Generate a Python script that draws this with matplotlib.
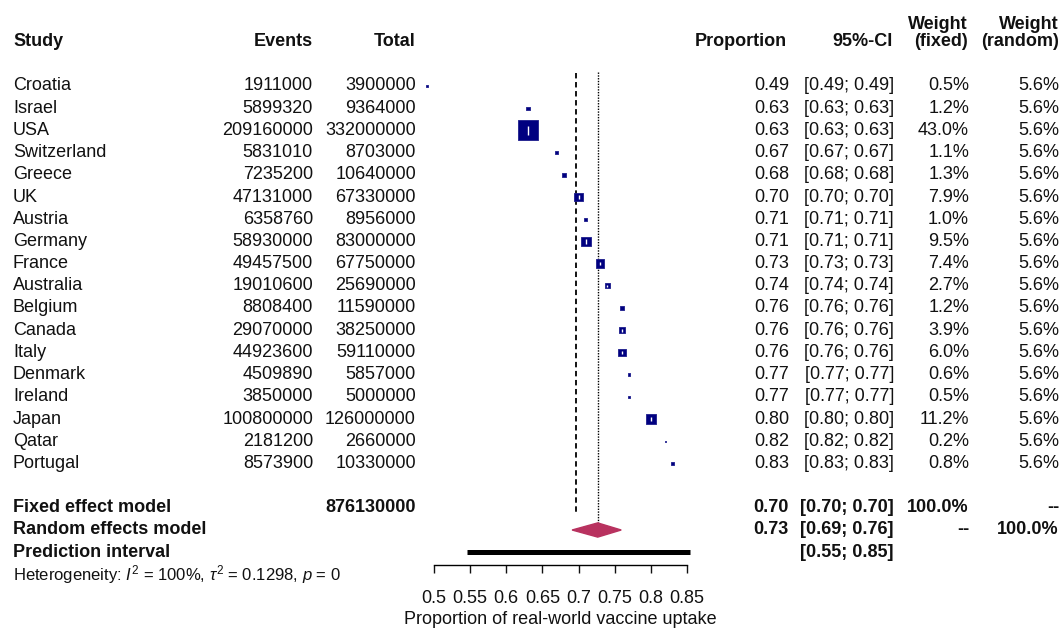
import numpy as np
import matplotlib
matplotlib.use("Agg")
from matplotlib import pyplot as plt
from matplotlib import transforms

plt.rcParams["font.family"] = ["Liberation Sans", "DejaVu Sans"]
plt.rcParams["mathtext.fontset"] = "custom"
plt.rcParams["mathtext.rm"] = "Liberation Sans"
plt.rcParams["mathtext.it"] = "Liberation Sans:italic"

# ---------------- data ----------------
studies = ["Croatia", "Israel", "USA", "Switzerland", "Greece", "UK", "Austria",
           "Germany", "France", "Australia", "Belgium", "Canada", "Italy",
           "Denmark", "Ireland", "Japan", "Qatar", "Portugal"]
events = [1911000, 5899320, 209160000, 5831010, 7235200, 47131000, 6358760,
          58930000, 49457500, 19010600, 8808400, 29070000, 44923600, 4509890,
          3850000, 100800000, 2181200, 8573900]
totals = [3900000, 9364000, 332000000, 8703000, 10640000, 67330000, 8956000,
          83000000, 67750000, 25690000, 11590000, 38250000, 59110000, 5857000,
          5000000, 126000000, 2660000, 10330000]
w_fixed = [0.5, 1.2, 43.0, 1.1, 1.3, 7.9, 1.0, 9.5, 7.4, 2.7, 1.2, 3.9, 6.0,
           0.6, 0.5, 11.2, 0.2, 0.8]
w_random = [5.6, 5.6, 5.6, 5.6, 5.6, 5.6, 5.6, 5.6, 5.6, 5.6, 5.6, 5.6, 5.6,
            5.6, 5.6, 5.6, 5.6, 5.6]

total_n = 876130000
fixed_est = 0.696                 # line position as drawn
fixed_txt = ["0.70", "[0.70; 0.70]", "100.0%", "--"]
random_est, random_lo, random_hi = 0.7265, 0.691, 0.759
random_txt = ["0.73", "[0.69; 0.76]", "--", "100.0%"]
pred_lo, pred_hi = 0.546, 0.854
pred_txt = "[0.55; 0.85]"

xticks = [0.5, 0.55, 0.6, 0.65, 0.7, 0.75, 0.8, 0.85]
xtick_labels = ["0.5", "0.55", "0.6", "0.65", "0.7", "0.75", "0.8", "0.85"]

prop = np.array(events) / np.array(totals)

# ---------------- layout ----------------
W, H = 1064, 630
fig = plt.figure(figsize=(W / 100, H / 100), dpi=100)

ROW0, DROW = 86, 22.2   # pixel y of first study row, row spacing
ax = fig.add_axes([434 / W, 0, (687 - 434) / W, 1])
ax.set_xlim(0.5, 0.85)
ax.set_ylim((H - ROW0) / DROW, -ROW0 / DROW)
for s in ["top", "left", "right"]:
    ax.spines[s].set_visible(False)
ax.spines["bottom"].set_position(("data", (565 - ROW0) / DROW))
ax.spines["bottom"].set_linewidth(1.0)
ax.set_yticks([])
ax.set_xticks(xticks)
ax.set_xticklabels(xtick_labels)
ax.tick_params(axis="x", direction="out", length=5.8, width=1.0, pad=12,
               labelsize=13, colors="#111111")
ax.set_xlabel("Proportion of real-world vaccine uptake", fontsize=13,
              color="#111111", labelpad=3)

fs = 13
tc = "#111111"
tr = transforms.blended_transform_factory(fig.transFigure, ax.transData)

def put(px, y, s, ha="right", bold=False, size=fs):
    ax.text(px / W, y, s, transform=tr, ha=ha, va="center", fontsize=size,
            fontweight="bold" if bold else "normal", color=tc)

# header
hy = -2.0
put(13, hy, "Study", ha="left", bold=True)
put(313, hy, "Events", bold=True)
put(416, hy, "Total", bold=True)
put(787, hy, "Proportion", bold=True)
put(893, hy, "95%-CI", bold=True)
put(968, hy - 0.78, "Weight", bold=True)
put(968, hy, "(fixed)", bold=True)
put(1059, hy - 0.78, "Weight", bold=True)
put(1059, hy, "(random)", bold=True)

# study rows
rows = np.arange(len(studies))
for i, name in enumerate(studies):
    put(13, i, name, ha="left")
    put(313, i, str(events[i]))
    put(416, i, str(totals[i]))
    put(789, i, f"{prop[i]:.2f}")
    put(894, i, f"[{prop[i]:.2f}; {prop[i]:.2f}]")
    put(969, i, f"{w_fixed[i]:.1f}%")
    put(1059, i, f"{w_random[i]:.1f}%")

# squares
side_px = 20 * np.sqrt(np.array(w_fixed) / 43.0)
side_pt = side_px * 0.72
ax.scatter(prop, rows, s=side_pt ** 2, marker="s", color="#000080",
           edgecolors="#1c1c8c", linewidths=0.6, clip_on=False, zorder=3)
big = side_px > 5
ax.scatter(prop[big], rows[big], s=(side_pt[big] * 0.45) ** 2, marker="|",
           color="white", linewidths=1.0, zorder=4)

# summary rows
yf, yr, yp, yh = 19, 20, 21, 22
put(13, yf, "Fixed effect model", ha="left", bold=True)
put(416, yf, str(total_n), bold=True)
for px, s in zip([789, 894, 969, 1059], fixed_txt):
    put(px, yf, s, bold=True)
put(13, yr, "Random effects model", ha="left", bold=True)
for px, s in zip([789, 894, 969, 1059], random_txt):
    put(px, yr, s, bold=True)
put(13, yp, "Prediction interval", ha="left", bold=True)
put(894, yp, pred_txt, bold=True)
put(13, yh, r"Heterogeneity: $I^2$ = 100%, $\tau^2$ = 0.1298, $p$ = 0",
    ha="left", size=12)

# reference lines
ax.plot([fixed_est, fixed_est], [-0.6, yf + 0.23], color="black", lw=1.3,
        ls=(0, (3, 2)), zorder=2)
ax.plot([random_est, random_est], [-0.65, yr - 0.3], color="black", lw=1.0,
        ls=(0, (1, 1)), zorder=2)

# random effects diamond
ax.fill([random_lo, random_est, random_hi, random_est],
        [yr, yr - 0.32, yr, yr + 0.32], color="#b8325f", zorder=3)

# prediction interval
ax.plot([pred_lo, pred_hi], [yp, yp], color="black", lw=3.6,
        solid_capstyle="butt", clip_on=False)

fig.savefig("out.png", dpi=100)
